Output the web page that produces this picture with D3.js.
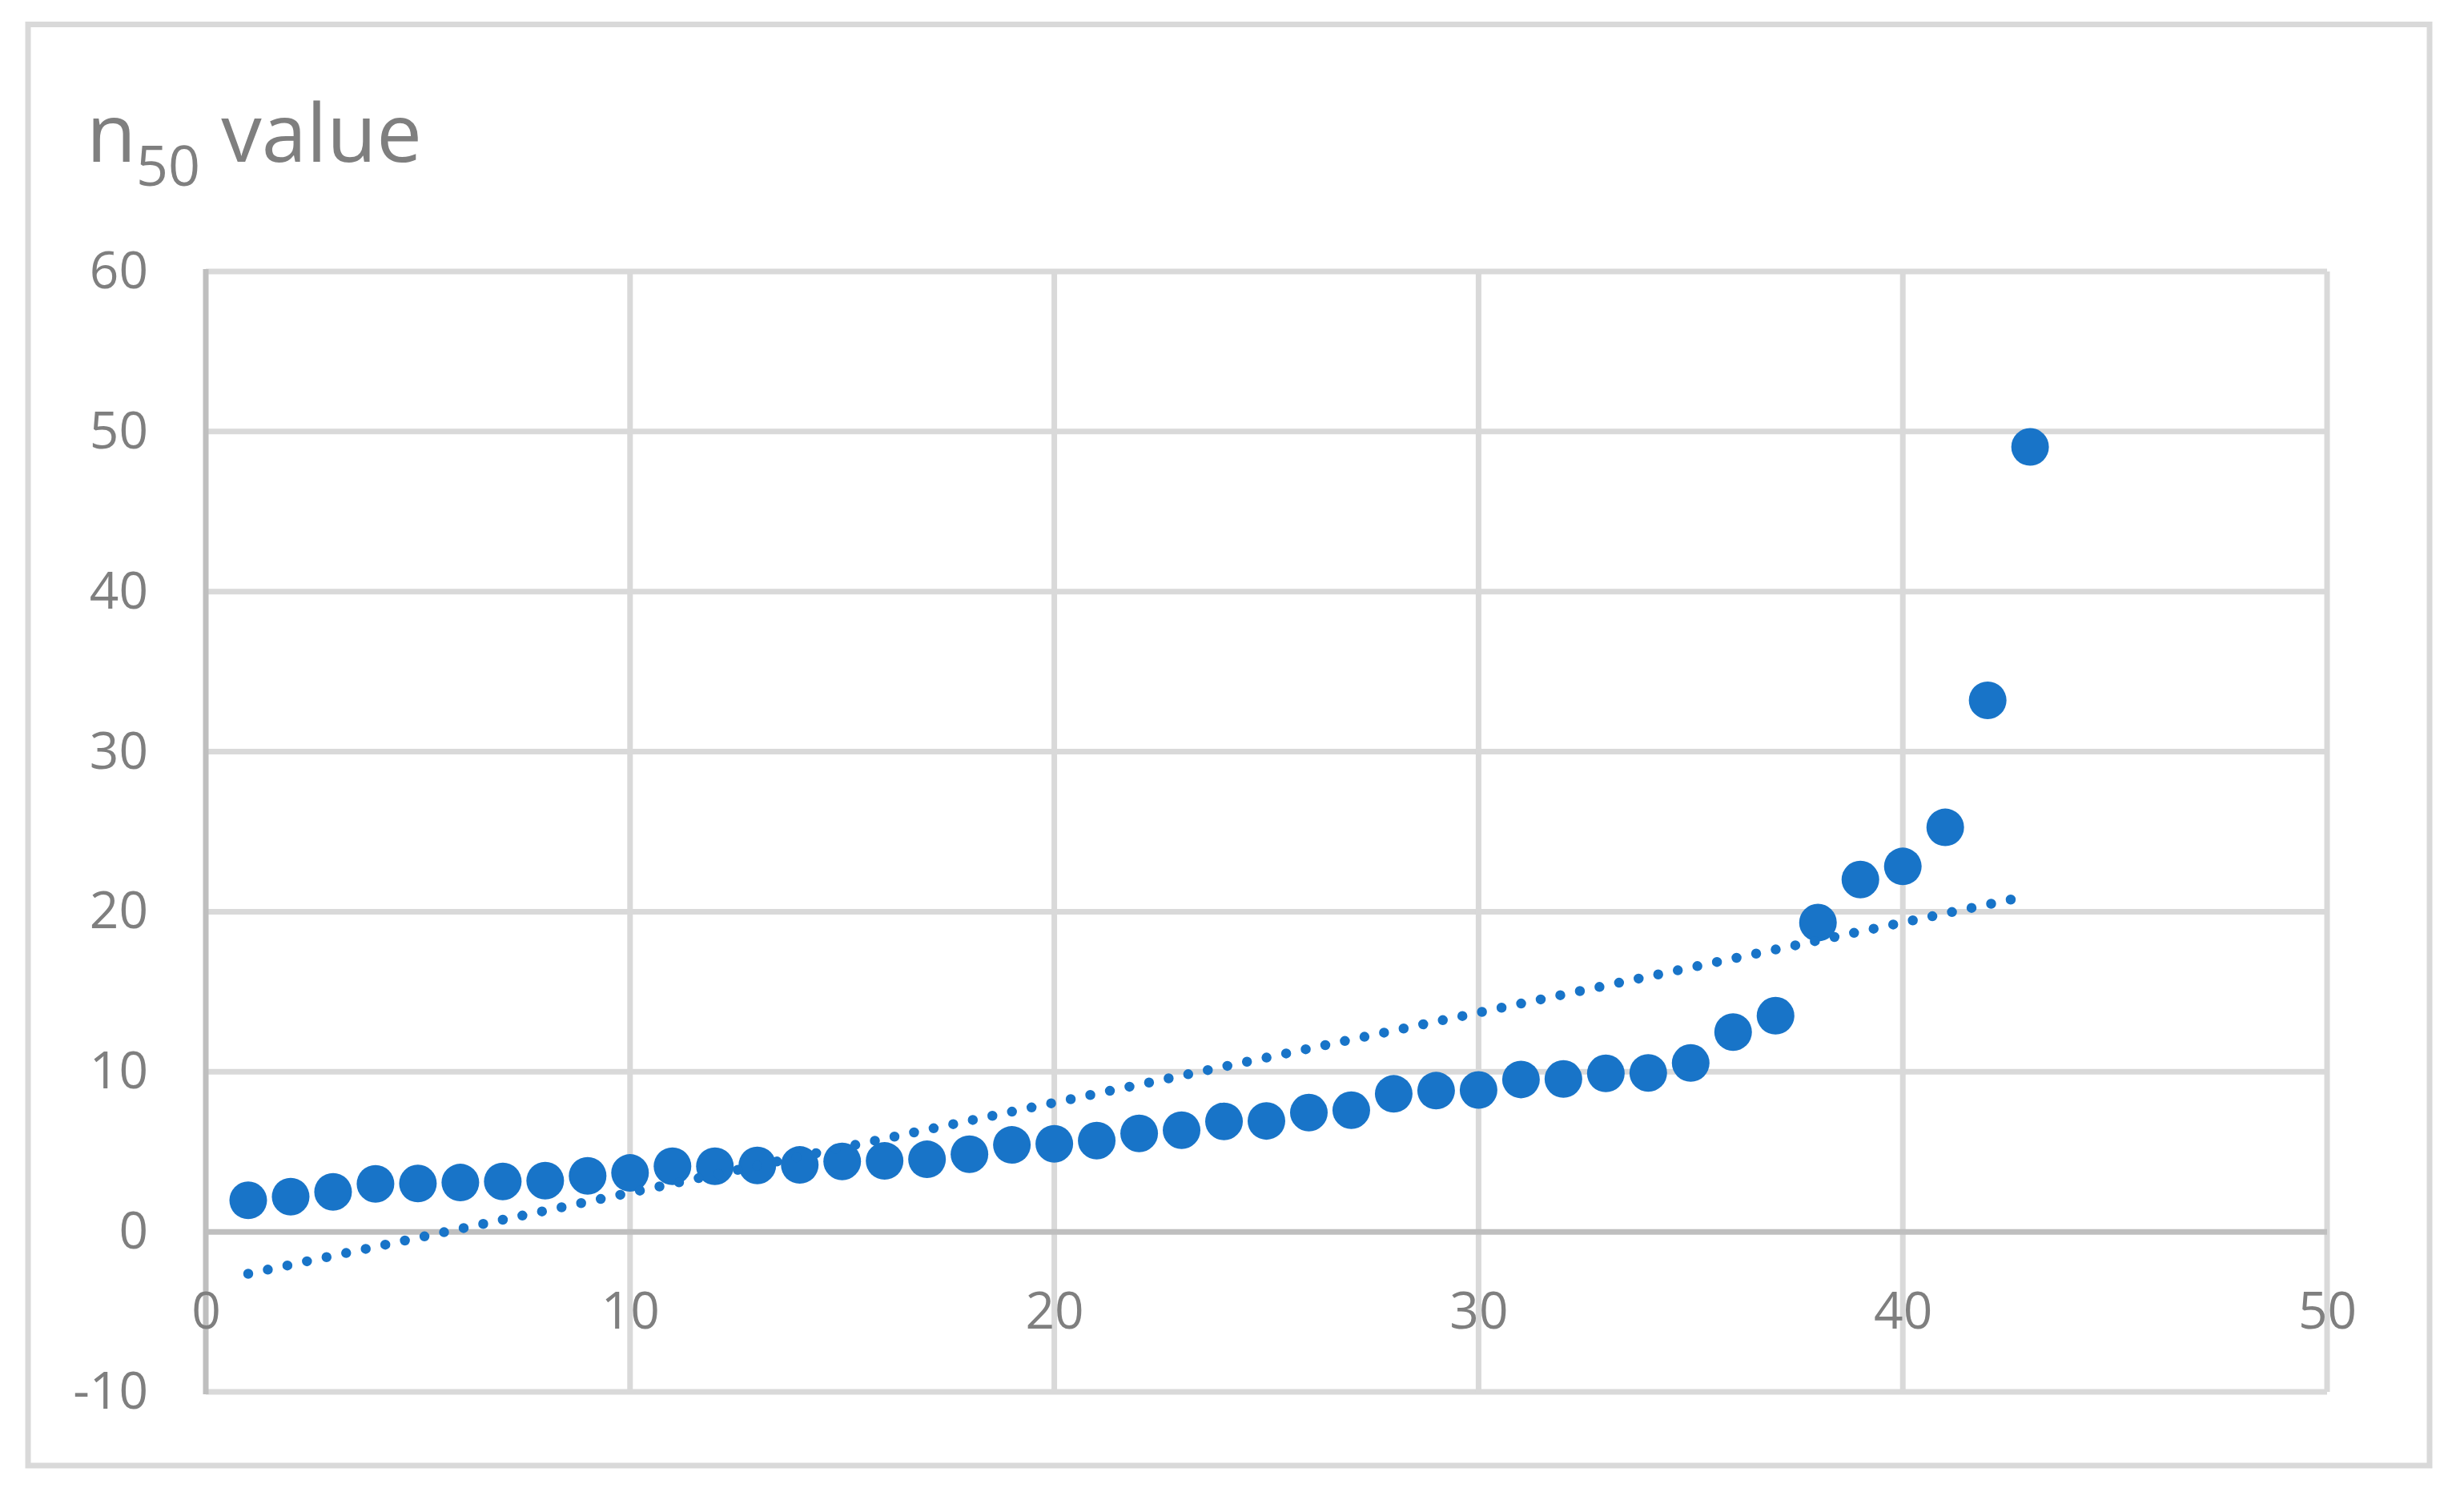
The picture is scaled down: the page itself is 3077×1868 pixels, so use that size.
<!DOCTYPE html>
<html>
<head>
<meta charset="utf-8">
<script src="https://cdn.jsdelivr.net/npm/d3@7"></script>
<style>
  html, body { margin: 0; padding: 0; background: #ffffff; }
  svg { display: block; }
  text { font-family: "Open Sans", "Noto Sans", sans-serif; }
</style>
</head>
<body>
<svg id="chart" width="3077" height="1868"></svg>
<script>
// ---- data ----
const xValues = d3.range(1, 44); // 1..43
const n50Values = [
  1.97, 2.20, 2.50, 3.00, 3.02, 3.08, 3.15, 3.20, 3.50, 3.68,
  4.10, 4.10, 4.15, 4.18, 4.40, 4.43, 4.53, 4.85, 5.43, 5.50,
  5.70, 6.15, 6.35, 6.90, 6.93, 7.45, 7.60, 8.62, 8.82, 8.86,
  9.52, 9.55, 9.90, 9.93, 10.55, 12.48, 13.50, 19.32, 22.01, 22.83,
  25.27, 33.21, 49.04
];
const xTicks = [0, 10, 20, 30, 40, 50];
const yTicks = [-10, 0, 10, 20, 30, 40, 50, 60];
const titleMain = "n";
const titleSub = "50";
const titleRest = " value";

// ---- layout ----
const svg = d3.select("#chart");
const W = 3077, H = 1868;
const plot = { left: 257, right: 2906, top: 339, bottom: 1738 };
const gridColor = "#d9d9d9";
const axisColor = "#bfbfbf";
const textColor = "#7f7f7f";
const dotColor = "#1874c8";

svg.append("rect").attr("x", 0).attr("y", 0).attr("width", W).attr("height", H).attr("fill", "#fff");
// chart area border
svg.append("rect")
  .attr("x", 35).attr("y", 30.5).attr("width", 2999).attr("height", 1799.5)
  .attr("fill", "none").attr("stroke", gridColor).attr("stroke-width", 7);

const x = d3.scaleLinear().domain([0, 50]).range([plot.left, plot.right]);
const y = d3.scaleLinear().domain([-10, 60]).range([plot.bottom, plot.top]);

// gridlines
const grid = svg.append("g");
grid.selectAll("line.h").data(yTicks.filter(d => d !== 0)).join("line")
  .attr("class", "h")
  .attr("x1", plot.left).attr("x2", plot.right)
  .attr("y1", d => y(d)).attr("y2", d => y(d))
  .attr("stroke", gridColor).attr("stroke-width", 7);
grid.selectAll("line.v").data(xTicks.filter(d => d !== 0)).join("line")
  .attr("class", "v")
  .attr("y1", plot.top).attr("y2", plot.bottom)
  .attr("x1", d => x(d)).attr("x2", d => x(d))
  .attr("stroke", gridColor).attr("stroke-width", 7);

// axis lines (at zero)
svg.append("line")
  .attr("x1", x(0)).attr("x2", x(0)).attr("y1", plot.top - 3).attr("y2", plot.bottom + 3)
  .attr("stroke", axisColor).attr("stroke-width", 7);
svg.append("line")
  .attr("x1", plot.left).attr("x2", plot.right).attr("y1", y(0)).attr("y2", y(0))
  .attr("stroke", axisColor).attr("stroke-width", 7);

// axis labels via d3 axes
const yAxis = d3.axisLeft(y).tickValues(yTicks).tickSize(0).tickPadding(72)
  .tickFormat(d => String(d));
const gy = svg.append("g").attr("transform", `translate(${plot.left},0)`).call(yAxis);
gy.select(".domain").remove();
gy.selectAll("text").attr("fill", textColor).style("font-size", "64px")
  .style("font-family", '"Open Sans", sans-serif');

const xAxis = d3.axisBottom(x).tickValues(xTicks).tickSize(0).tickPadding(75)
  .tickFormat(d => String(d));
const gx = svg.append("g").attr("transform", `translate(0,${y(0)})`).call(xAxis);
gx.select(".domain").remove();
gx.selectAll("text").attr("fill", textColor).style("font-size", "64px")
  .style("font-family", '"Open Sans", sans-serif');

// linear trendline (least squares, as the spreadsheet computes it)
const n = xValues.length;
const mx = d3.mean(xValues), my = d3.mean(n50Values);
let sxy = 0, sxx = 0;
for (let i = 0; i < n; i++) {
  sxy += (xValues[i] - mx) * (n50Values[i] - my);
  sxx += (xValues[i] - mx) ** 2;
}
const slope = sxy / sxx, intercept = my - slope * mx;
const xMin = d3.min(xValues), xMax = d3.max(xValues);
const trend = [[xMin, intercept + slope * xMin], [xMax, intercept + slope * xMax]];

// markers
svg.append("g").selectAll("circle").data(xValues.map((d, i) => [d, n50Values[i]])).join("circle")
  .attr("cx", d => x(d[0])).attr("cy", d => y(d[1])).attr("r", 23.5)
  .attr("fill", dotColor);

svg.append("path")
  .attr("d", d3.line().x(d => x(d[0])).y(d => y(d[1]))(trend))
  .attr("fill", "none").attr("stroke", dotColor).attr("stroke-width", 12.5)
  .attr("stroke-linecap", "round").attr("stroke-dasharray", "0 25");

// title
const t = svg.append("text").attr("x", 108).attr("y", 202)
  .attr("fill", textColor).style("font-size", "101px");
t.append("tspan").text(titleMain);
t.append("tspan").attr("dy", 30).style("font-size", "70px").text(titleSub);
t.append("tspan").attr("dy", -30).style("white-space", "pre").text(titleRest);
</script>
</body>
</html>
